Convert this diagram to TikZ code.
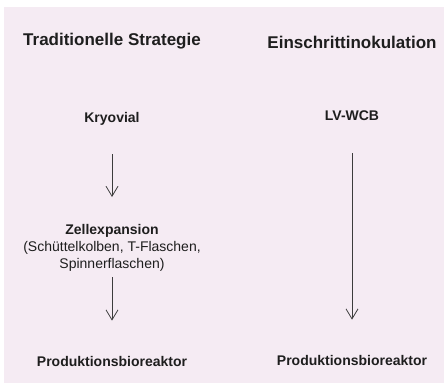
\documentclass[tikz,border=0pt]{standalone}
\usepackage{fontspec}
\setmainfont{Liberation Sans}
\usetikzlibrary{arrows.meta}

\definecolor{bgpink}{RGB}{245,235,243}
\definecolor{inkgray}{RGB}{30,30,30}
\definecolor{arrowgray}{RGB}{60,60,60}

\begin{document}
\begin{tikzpicture}[
  x=1pt, y=-1pt,
  every node/.style={inner sep=0pt, text=inkgray},
  head/.style={font=\fontsize{17}{20}\selectfont\bfseries, anchor=base},
  step box/.style={font=\fontsize{14}{17}\selectfont\bfseries, anchor=base},
  expand/.style={font=\fontsize{14}{17}\selectfont, align=center, anchor=north},
  arrow/.style={-{Straight Barb[length=10pt, width=12pt]}, line width=0.8pt, draw=arrowgray}
]

\useasboundingbox (0,0) rectangle (444,385);
\fill[bgpink] (4,7) rectangle (444,383);

% linke Spalte
\node[head] (trad) at (112,46) {Traditionelle Strategie};
\node[step box] (kryo) at (112,122) {Kryovial};
\node[expand] (zell) at (112,224) {\textbf{Zellexpansion}\\(Schüttelkolben, T-Flaschen,\\Spinnerflaschen)};
\node[step box] (prodL) at (112,366) {Produktionsbioreaktor};

% rechte Spalte
\node[head] (einschritt) at (352,49) {Einschrittinokulation};
\node[step box] (lvwcb) at (352,121) {LV-WCB};
\node[step box] (prodR) at (352,365) {Produktionsbioreaktor};

\draw[arrow, shorten <=29pt, shorten >=27pt] (kryo) -- (zell);
\draw[arrow, shorten <=6pt, shorten >=35pt] (zell) -- (prodL);
\draw[arrow, shorten <=32pt, shorten >=35pt] (lvwcb) -- (prodR);

\end{tikzpicture}
\end{document}
